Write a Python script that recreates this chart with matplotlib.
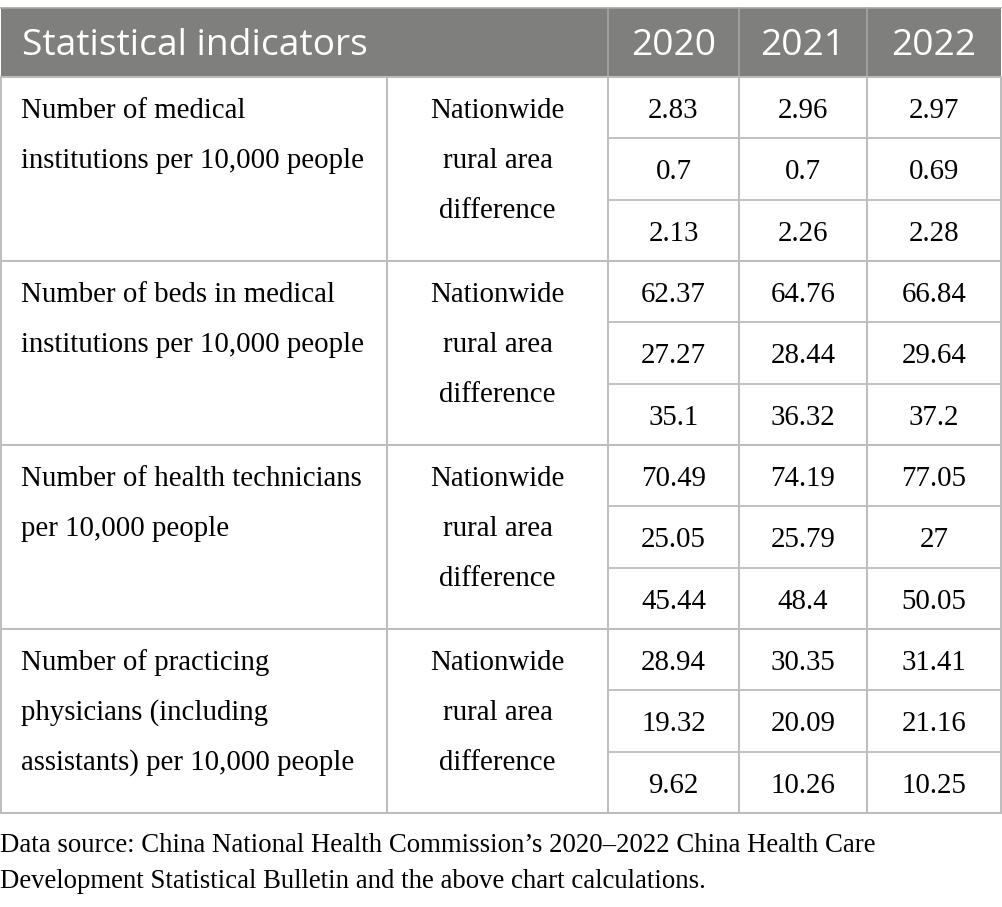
import matplotlib.pyplot as plt

# datos de la tabla
anios = ["2020", "2021", "2022"]
indicadores = [
    ["Number of medical", "institutions per 10,000 people"],
    ["Number of beds in medical", "institutions per 10,000 people"],
    ["Number of health technicians", "per 10,000 people"],
    ["Number of practicing", "physicians (including", "assistants) per 10,000 people"],
]
subfilas = ["Nationwide", "rural area", "difference"]
valores = [
    [["2.83", "2.96", "2.97"], ["0.7", "0.7", "0.69"], ["2.13", "2.26", "2.28"]],
    [["62.37", "64.76", "66.84"], ["27.27", "28.44", "29.64"], ["35.1", "36.32", "37.2"]],
    [["70.49", "74.19", "77.05"], ["25.05", "25.79", "27"], ["45.44", "48.4", "50.05"]],
    [["28.94", "30.35", "31.41"], ["19.32", "20.09", "21.16"], ["9.62", "10.26", "10.25"]],
]
nota = ["Data source: China National Health Commission\u2019s 2020\u20132022 China Health Care",
        "Development Statistical Bulletin and the above chart calculations."]

W, H = 1002, 907
fig = plt.figure(figsize=(W / 100, H / 100), dpi=100)
ax = fig.add_axes([0, 0, 1, 1])
ax.set_xlim(0, W)
ax.set_ylim(H, 0)
ax.axis("off")

GRIS = "#7f807e"
LINEA = "#bdbdbd"
SERIF = "Liberation Serif"
SANS = "Open Sans"
FS = 20.8

cols = [0.5, 387, 608, 739, 867, 1001]
y_cab0, y_cab1, y_fin = 8, 77, 813
alto = (y_fin - y_cab1) / 12

# cabecera
ax.add_patch(plt.Rectangle((cols[0], y_cab0), cols[-1] - cols[0], y_cab1 - y_cab0,
                           facecolor=GRIS, edgecolor="none"))
ax.text(22, 55, "Statistical indicators", family=SANS, fontsize=26.7, color="white", va="baseline")
for j, a in enumerate(anios):
    xc = (cols[j + 2] + cols[j + 3]) / 2
    ax.text(xc, 55, a, family=SANS, fontsize=26.7, color="white", va="baseline", ha="center")
for x in cols[2:5]:
    ax.plot([x, x], [y_cab0, y_cab1], color="#a6a6a6", lw=1.2)
ax.plot([cols[0], cols[-1]], [y_cab0, y_cab0], color="#a6a6a6", lw=1.2)

# cuerpo
for g, nombre in enumerate(indicadores):
    top = y_cab1 + g * 3 * alto
    for k, linea in enumerate(nombre):
        ax.text(21, top + 41 + 50 * k, linea, family=SERIF, fontsize=FS, va="baseline")
    for k, s in enumerate(subfilas):
        ax.text((cols[1] + cols[2]) / 2, top + 41 + 50 * k, s, family=SERIF, fontsize=FS,
                va="baseline", ha="center")
    for r in range(3):
        yb = top + r * alto + 41
        for j in range(3):
            xc = (cols[j + 2] + cols[j + 3]) / 2
            ax.text(xc, yb, valores[g][r][j], family=SERIF, fontsize=FS, va="baseline", ha="center")
        if r > 0:
            ax.plot([cols[2], cols[-1]], [top + r * alto] * 2, color=LINEA, lw=1.3)
    ax.plot([cols[0], cols[-1]], [top, top], color=LINEA, lw=1.5)

ax.plot([cols[0], cols[-1]], [y_fin, y_fin], color=LINEA, lw=1.5)
for x in cols:
    ax.plot([x, x], [y_cab1, y_fin], color=LINEA, lw=1.4)

# nota al pie
for k, linea in enumerate(nota):
    ax.text(0, 852 + 36 * k, linea, family=SERIF, fontsize=19.3, va="baseline")

fig.savefig("out.png", dpi=100)
